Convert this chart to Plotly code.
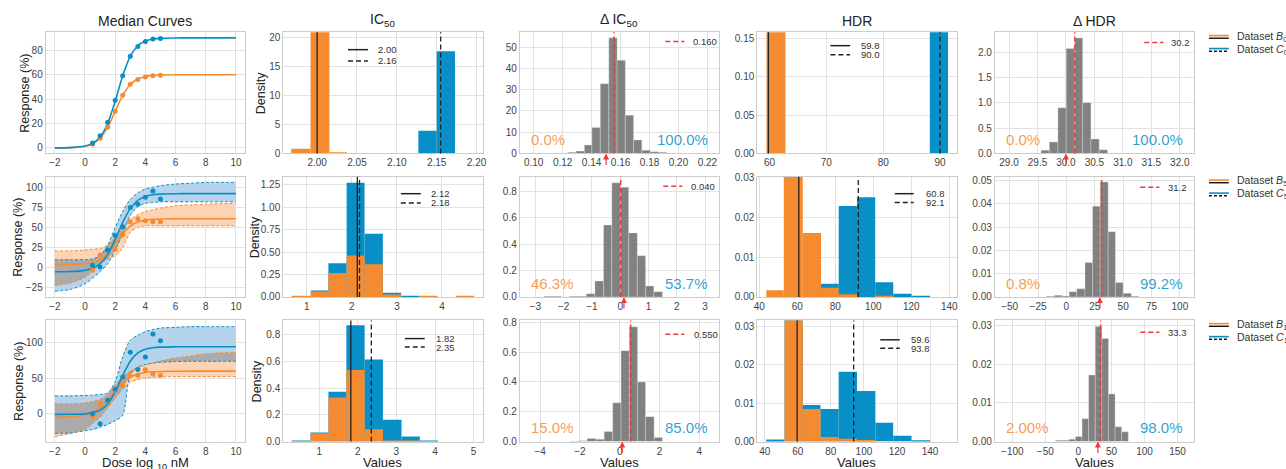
import numpy as np
import plotly.graph_objects as go

W, H = 1286, 469
ORANGE = "#f58b31"
BLUE = "#088fc7"
RED = "#ec3a3a"
TXT = "#333333"
FONT = "Liberation Sans, Arial, sans-serif"

# ---------------- data: median curves ----------------
curve_x = [-2, -1, 0, 0.5, 1, 1.5, 2, 2.5, 3, 3.5, 4, 4.5, 5, 6, 7, 8, 10]
dose_x = [0.5, 1.0, 1.5, 2.0, 2.5, 3.0, 3.5, 4.0, 4.5, 5.0]

med_b0 = [0.03, 0.21, 1.4, 3.4, 7.9, 16.8, 29.9, 43.0, 51.9, 56.4, 58.4, 59.3, 59.6, 59.8, 59.8, 59.8, 59.8]
med_c0 = [0.03, 0.22, 1.5, 3.7, 8.9, 20.0, 38.2, 59.0, 74.8, 83.5, 87.4, 89.0, 89.6, 89.9, 90.0, 90.0, 90.0]
pts_b0 = [3, 8, 17, 30, 43, 52, 56, 58, 59, 59.5]
pts_c0 = [4, 10, 21, 39, 59, 75, 83, 87, 89, 89.5]

med_b5 = [4.0, 4.15, 5.0, 6.5, 10.0, 17.4, 29.2, 42.2, 51.8, 56.9, 59.2, 60.2, 60.6, 60.8, 60.8, 60.8, 60.8]
med_c5 = [-4.95, -4.7, -3.2, -0.65, 5.0, 16.4, 35.0, 56.3, 73.5, 83.6, 88.4, 90.6, 91.5, 92.0, 92.1, 92.1, 92.1]
up_b5 = [21, 21, 22, 23, 24, 28, 38, 50, 60, 66, 70, 72, 74, 77, 78, 79, 80]
lo_b5 = [-22, -19, -12, -4, 5, 11, 15, 25, 44, 50, 52, 52, 52, 52, 52, 52, 52]
up_c5 = [10, 10, 10, 11, 15, 28, 50, 70, 85, 93, 98, 100, 102, 104, 105, 106, 106]
lo_c5 = [-29, -27, -20, -13, -5, 5, 22, 42, 65, 76, 80, 81, 82, 82, 82, 82, 82]
pts_b5 = [-3, 16, 22, 23, 41, 57, 61, 58.5, 57, 57]
pts_c5 = [3, 1, 22, 40, 51, 75, 79, 87.5, 95.5, 85.5]

med_b10 = [-4.9, -4.3, -1.7, 2.0, 8.7, 19.2, 31.9, 43.4, 51.1, 55.5, 57.7, 58.7, 59.2, 59.5, 59.6, 59.6, 59.6]
med_c10 = [-1.0, -0.9, -0.2, 1.3, 5.0, 13.7, 30.5, 53.5, 73.5, 85.2, 90.4, 92.5, 93.3, 93.7, 93.8, 93.8, 93.8]
up_b10 = [14, 14, 15, 17, 20, 27, 40, 52, 60, 64, 68, 71, 74, 78, 81, 84, 86]
lo_b10 = [-32, -28, -22, -14, -5, 8, 22, 35, 44, 48, 50, 51, 51.5, 52, 52, 52, 52]
up_c10 = [25, 25, 25.5, 26, 27, 29, 45, 80, 103, 110, 115, 118, 120, 121, 122, 122, 122]
lo_c10 = [-27.5, -27, -24, -22, -19, -15, -10, -2, 55, 65, 69, 71, 72, 73, 73.4, 73.4, 73.4]
pts_b10 = [-4, 14, 18, 33, 39, 53, 54, 61.5, 55.5, 53.7]
pts_c10 = [0, -14, 19, 34.4, 51.4, 86.2, 62, 79.4, 111.5, 102.3]

# ---------------- data: IC50 histograms ----------------
ic50_b0_edges = [1.9675, 1.9917, 2.0154, 2.0375]
ic50_b0_h = [0.8, 41.4, 0.2]
ic50_c0_edges = [2.127, 2.150, 2.173]
ic50_c0_h = [3.9, 17.6]

ic50_5_edges = [0.661, 1.088, 1.479, 1.884, 2.282, 2.688, 3.093, 3.498, 3.903, 4.309, 4.714]
ic50_b5_h = [0.007, 0.062, 0.266, 0.463, 0.364, 0.029, 0, 0.007, 0, 0.007]
ic50_c5_h = [0, 0.073, 0.375, 1.272, 0.703, 0.047, 0.007, 0, 0, 0]

ic50_10_edges = [0.286, 0.776, 1.241, 1.705, 2.178, 2.652, 3.133, 3.606, 4.08]
ic50_b10_h = [0, 0.062, 0.329, 0.535, 0.092, 0.007, 0.007, 0]
ic50_c10_h = [0.007, 0.067, 0.372, 0.869, 0.614, 0.163, 0.037, 0.007]

ic50_med_b = [2.00, 2.12, 1.82]
ic50_med_c = [2.155, 2.17, 2.35]
ic50_lab_b = ["2.00", "2.12", "1.82"]
ic50_lab_c = ["2.16", "2.18", "2.35"]

# ---------------- data: delta IC50 ----------------
dic0_edges = [0.1235, 0.1293, 0.135, 0.1402, 0.146, 0.1519, 0.1576, 0.1633, 0.169, 0.1747, 0.1805, 0.1862, 0.1919]
dic0_h = [0.5, 1.1, 4.0, 12.2, 32.8, 54.3, 43.8, 18.0, 6.3, 1.5, 0.8, 0.5]
dic5_edges = [-2.684, -2.386, -2.088, -1.79, -1.49, -1.2, -0.895, -0.59, -0.298, 0.006, 0.298, 0.602, 0.895, 1.187, 1.491]
dic5_h = [0.006, 0.006, 0, 0.006, 0.006, 0.025, 0.121, 0.545, 0.864, 0.83, 0.485, 0.312, 0.084, 0.04]
dic10_edges = [-2.5, -2.083, -1.633, -1.2, -0.783, -0.35, 0.067, 0.483, 0.9, 1.3, 1.733, 2.15]
dic10_h = [0.003, 0.005, 0.02, 0.015, 0.067, 0.26, 0.61, 0.77, 0.4, 0.167, 0.027]
dic_med = [0.1555, 0.017, 0.55]
dic_lab = ["0.160", "0.040", "0.550"]
dic_true = [0.15, 0.13, 0.13]
dic_pct_b = ["0.0%", "46.3%", "15.0%"]
dic_pct_c = ["100.0%", "53.7%", "85.0%"]

# ---------------- data: HDR histograms ----------------
hdr_b0_edges = [59.48, 62.8]
hdr_b0_h = [0.3]
hdr_c0_edges = [88.2, 91.4]
hdr_c0_h = [0.31]
hdr_5_edges = [43.7, 52.9, 62.9, 72.5, 81.8, 91.4, 101.0, 110.5, 120.1, 129.9]
hdr_b5_h = [0.0017, 0.041, 0.0161, 0.0023, 0.0007, 0, 0.0003, 0, 0]
hdr_c5_h = [0, 0, 0, 0.0033, 0.0229, 0.0251, 0.0037, 0.0008, 0.0002]
hdr_10_edges = [40.9, 52.0, 63.0, 73.7, 84.7, 95.8, 106.9, 117.7, 128.8, 140.0]
hdr_b10_h = [0, 0.0325, 0.0085, 0.0012, 0.0007, 0.0004, 0, 0, 0]
hdr_c10_h = [0.0005, 0.0327, 0.0095, 0.0085, 0.0182, 0.0132, 0.0049, 0.0015, 0.0003]
hdr_med_b = [59.8, 60.8, 59.6]
hdr_med_c = [90.0, 92.1, 93.8]
hdr_lab_b = ["59.8", "60.8", "59.6"]
hdr_lab_c = ["90.0", "92.1", "93.8"]

# ---------------- data: delta HDR ----------------
dhdr0_edges = [29.424, 29.563, 29.708, 29.859, 30.004, 30.155, 30.294, 30.439, 30.584, 30.730]
dhdr0_h = [0.01, 0.065, 0.227, 0.903, 2.078, 2.29, 1.006, 0.286, 0.071]
dhdr5_edges = [-17.7, -10.7, -3.7, 2.4, 9.1, 16.4, 23.1, 29.8, 36.8, 43.2, 49.9, 57.2, 63.9]
dhdr5_h = [0.0003, 0.0007, 0.0004, 0.0023, 0.0035, 0.0148, 0.039, 0.0494, 0.028, 0.0062, 0.0016, 0.0003]
dhdr10_edges = [-34.5, -24.5, -14.5, -4.5, 5.5, 15.5, 25.5, 35.5, 45.5, 55.5, 65.5, 75.5]
dhdr10_h = [0.0003, 0.0003, 0.0006, 0.0013, 0.0059, 0.0172, 0.0297, 0.0266, 0.0123, 0.0038, 0.0025]
dhdr_med = [30.155, 31.0, 33.5]
dhdr_lab = ["30.2", "31.2", "33.3"]
dhdr_true = [30.0, 29.5, 29.5]
dhdr_pct_b = ["0.0%", "0.8%", "2.00%"]
dhdr_pct_c = ["100.0%", "99.2%", "98.0%"]

legend_sub = ["0", "5", "10"]
col_titles = ["Median Curves", "IC<sub>50</sub>", "Δ IC<sub>50</sub>", "HDR", "Δ HDR"]

# ---------------- axis setup ----------------
ranges_x = [
    [[-2.6, 10.6], [1.9575, 2.2075], [0.0904, 0.228], [57.85, 92.9], [28.75, 32.25]],
    [[-2.6, 10.6], [0.477, 4.9], [-3.55, 3.49], [38.95, 143.8], [-63.1, 112.5]],
    [[-2.6, 10.6], [0.07, 5.23], [-5.03, 5.0], [35.5, 156], [-126.5, 175]],
]
ranges_y = [
    [[-4.5, 94.5], [0, 20.85], [0, 56.9], [0, 0.1577], [0, 2.40]],
    [[-36.3, 112.9], [0, 1.337], [0, 0.909], [0, 0.0302], [0, 0.0516]],
    [[-39, 130.7], [0, 0.906], [0, 0.813], [0, 0.0316], [0, 0.0313]],
]
ticks_x = [
    [list(range(-2, 11, 2)), [2.0, 2.05, 2.1, 2.15, 2.2], [0.10, 0.12, 0.14, 0.16, 0.18, 0.20, 0.22], [60, 70, 80, 90], [29.0, 29.5, 30.0, 30.5, 31.0, 31.5, 32.0]],
    [list(range(-2, 11, 2)), [1, 2, 3, 4], [-3, -2, -1, 0, 1, 2, 3], [40, 60, 80, 100, 120, 140], [-50, -25, 0, 25, 50, 75, 100]],
    [list(range(-2, 11, 2)), [1, 2, 3, 4, 5], [-4, -2, 0, 2, 4], [40, 60, 80, 100, 120, 140], [-100, -50, 0, 50, 100, 150]],
]
fmt_x = [["d", ".2f", ".2f", "d", ".1f"], ["d", "d", "d", "d", "d"], ["d", "d", "d", "d", "d"]]
ticks_y = [
    [[0, 20, 40, 60, 80], [0, 5, 10, 15, 20], [0, 10, 20, 30, 40, 50], [0, 0.05, 0.10, 0.15], [0, 0.5, 1.0, 1.5, 2.0]],
    [[-25, 0, 25, 50, 75, 100], [0, 0.25, 0.5, 0.75, 1.0, 1.25], [0, 0.2, 0.4, 0.6, 0.8], [0, 0.01, 0.02, 0.03], [0, 0.01, 0.02, 0.03, 0.04, 0.05]],
    [[0, 50, 100], [0, 0.2, 0.4, 0.6, 0.8], [0, 0.2, 0.4, 0.6, 0.8], [0, 0.01, 0.02, 0.03], [0, 0.01, 0.02, 0.03]],
]
fmt_y = [["d", "d", "d", ".2f", ".1f"], ["d", ".2f", ".1f", ".2f", ".2f"], ["d", ".1f", ".1f", ".2f", ".2f"]]

col_left = [42, 281, 519, 758, 997]
col_w = 200.5
row_top = [28, 176, 323]
row_bot = [152, 299, 447]
resp_lab_x = [21, 14, 15]
dens_lab_x = [258, 252, 255]


def pid(r, c):
    return r * 5 + c + 1


def xr(n):
    return "x" if n == 1 else f"x{n}"


def yr(n):
    return "y" if n == 1 else f"y{n}"


fig = go.Figure()
layout = {}
for r in range(3):
    for c in range(5):
        n = pid(r, c)
        common = dict(showgrid=True, gridcolor="#e2e2e2", gridwidth=1, showline=True, mirror=True,
                      linecolor="#cccccc", linewidth=1, zeroline=False, ticks="",
                      tickfont=dict(size=10, color="#444", family=FONT), fixedrange=True)
        layout["xaxis" if n == 1 else f"xaxis{n}"] = dict(
            domain=[col_left[c] / W, (col_left[c] + col_w) / W], anchor=yr(n),
            range=ranges_x[r][c], tickvals=ticks_x[r][c], tickformat=fmt_x[r][c], **common)
        layout["yaxis" if n == 1 else f"yaxis{n}"] = dict(
            domain=[1 - row_bot[r] / H, 1 - row_top[r] / H], anchor=xr(n),
            range=ranges_y[r][c], tickvals=ticks_y[r][c], tickformat=fmt_y[r][c], **common)

shapes = []
annotations = []


def line_trace(n, x, y, color, width=1.5, dash=None, fill=None, fillcolor=None, mode="lines"):
    fig.add_trace(go.Scatter(x=x, y=y, mode=mode, line=dict(color=color, width=width, dash=dash, shape="spline", smoothing=0.8),
                             fill=fill, fillcolor=fillcolor, xaxis=xr(n), yaxis=yr(n), showlegend=False, hoverinfo="skip"))


def add_hist(n, edges, heights, color, line_color=None):
    e = np.asarray(edges, dtype=float)
    fig.add_trace(go.Bar(x=e[:-1], y=heights, width=np.diff(e), offset=0,
                         marker=dict(color=color, line=dict(color=line_color or color, width=0.6 if line_color else 0)),
                         xaxis=xr(n), yaxis=yr(n), showlegend=False, hoverinfo="skip"))


def vline(n, x, color, dash=None, width=1.3):
    shapes.append(dict(type="line", xref=xr(n), yref=f"{yr(n)} domain", x0=x, x1=x, y0=0, y1=1,
                       line=dict(color=color, width=width, dash=dash)))


def dom_line(n, x0, x1, y, color, dash=None, width=1.5):
    shapes.append(dict(type="line", xref=f"{xr(n)} domain", yref=f"{yr(n)} domain", x0=x0, x1=x1, y0=y, y1=y,
                       line=dict(color=color, width=width, dash=dash)))


def dom_text(n, x, y, text, size=9.5, color=TXT, xanchor="left", yanchor="middle"):
    annotations.append(dict(xref=f"{xr(n)} domain", yref=f"{yr(n)} domain", x=x, y=y, text=text, showarrow=False,
                            xanchor=xanchor, yanchor=yanchor, borderpad=0,
                            font=dict(size=size, color=color, family=FONT)))


DASH = "5px,3px"

# ---------------- column 1: median curves ----------------
curve_rows = [
    (med_b0, med_c0, None, None, None, None, pts_b0, pts_c0),
    (med_b5, med_c5, up_b5, lo_b5, up_c5, lo_c5, pts_b5, pts_c5),
    (med_b10, med_c10, up_b10, lo_b10, up_c10, lo_c10, pts_b10, pts_c10),
]
for r, (mb, mc, ub, lb, uc, lc, pb, pc) in enumerate(curve_rows):
    n = pid(r, 0)
    if ub is not None:
        line_trace(n, curve_x, lc, "rgba(0,0,0,0)", width=0)
        line_trace(n, curve_x, uc, "rgba(0,0,0,0)", width=0, fill="tonexty", fillcolor="#b5d3ea")
        line_trace(n, curve_x, lb, "rgba(0,0,0,0)", width=0)
        line_trace(n, curve_x, ub, "rgba(0,0,0,0)", width=0, fill="tonexty", fillcolor="#fcd4b4")
        ov_lo = np.maximum(lb, lc)
        ov_hi = np.maximum(ov_lo, np.minimum(ub, uc))
        line_trace(n, curve_x, ov_lo, "rgba(0,0,0,0)", width=0)
        line_trace(n, curve_x, ov_hi, "rgba(0,0,0,0)", width=0, fill="tonexty", fillcolor="#ababab")
        for arr in (uc, lc):
            line_trace(n, curve_x, arr, BLUE, width=1, dash="3px,2px")
        for arr in (ub, lb):
            line_trace(n, curve_x, arr, ORANGE, width=1, dash="3px,2px")
    line_trace(n, curve_x, mb, ORANGE, width=1.6)
    line_trace(n, curve_x, mc, BLUE, width=1.6)
    fig.add_trace(go.Scatter(x=dose_x, y=pb, mode="markers", marker=dict(color=ORANGE, size=5),
                             xaxis=xr(n), yaxis=yr(n), showlegend=False, hoverinfo="skip"))
    fig.add_trace(go.Scatter(x=dose_x, y=pc, mode="markers", marker=dict(color=BLUE, size=5),
                             xaxis=xr(n), yaxis=yr(n), showlegend=False, hoverinfo="skip"))

# ---------------- column 2: IC50 ----------------
ic50_rows = [
    (ic50_b0_edges, ic50_b0_h, ic50_c0_edges, ic50_c0_h),
    (ic50_5_edges, ic50_b5_h, ic50_5_edges, ic50_c5_h),
    (ic50_10_edges, ic50_b10_h, ic50_10_edges, ic50_c10_h),
]
ic50_leg = [(0.325, 0.425, 0.47, 0.857, 0.764), (0.59, 0.69, 0.735, 0.86, 0.783), (0.61, 0.71, 0.76, 0.85, 0.78)]
for r, (eb, hb, ec, hc) in enumerate(ic50_rows):
    n = pid(r, 1)
    add_hist(n, ec, hc, BLUE)
    add_hist(n, eb, hb, ORANGE)
    vline(n, ic50_med_b[r], "#222222")
    vline(n, ic50_med_c[r], "#222222", dash=DASH)
    x0, x1, xt, y1, y2 = ic50_leg[r]
    dom_line(n, x0, x1, y1, "#222222")
    dom_line(n, x0, x1, y2, "#222222", dash=DASH)
    dom_text(n, xt, y1, ic50_lab_b[r])
    dom_text(n, xt, y2, ic50_lab_c[r])

# ---------------- column 3: delta IC50 ----------------
dic_rows = [(dic0_edges, dic0_h), (dic5_edges, dic5_h), (dic10_edges, dic10_h)]
dic_leg = [(0.73, 0.826, 0.862, 0.925), (0.72, 0.816, 0.852, 0.921), (0.73, 0.826, 0.868, 0.885)]
for r, (e, h) in enumerate(dic_rows):
    n = pid(r, 2)
    add_hist(n, e, h, "rgba(118,118,118,0.92)", line_color="rgba(230,230,230,0.6)")
    vline(n, dic_med[r], RED, dash=DASH, width=1.5)
    x0, x1, xt, y1 = dic_leg[r]
    dom_line(n, x0, x1, y1, RED, dash=DASH)
    dom_text(n, xt, y1, dic_lab[r])
    dom_text(n, 0.05, 0.035, dic_pct_b[r], size=15, color="rgba(245,139,49,0.85)", yanchor="bottom")
    dom_text(n, 0.95, 0.035, dic_pct_c[r], size=15, color="rgba(8,143,199,0.85)", xanchor="right", yanchor="bottom")
    annotations.append(dict(xref=xr(n), yref=yr(n), x=dic_true[r], y=0, ax=0, ay=13, text="", showarrow=True,
                            arrowhead=2, arrowsize=1, arrowwidth=1.2, arrowcolor=RED))

# ---------------- column 4: HDR ----------------
hdr_rows = [
    (hdr_b0_edges, hdr_b0_h, hdr_c0_edges, hdr_c0_h),
    (hdr_5_edges, hdr_b5_h, hdr_5_edges, hdr_c5_h),
    (hdr_10_edges, hdr_b10_h, hdr_10_edges, hdr_c10_h),
]
hdr_leg = [(0.367, 0.466, 0.516, 0.89, 0.815), (0.69, 0.785, 0.84, 0.86, 0.786), (0.617, 0.715, 0.765, 0.84, 0.77)]
for r, (eb, hb, ec, hc) in enumerate(hdr_rows):
    n = pid(r, 3)
    add_hist(n, ec, hc, BLUE)
    add_hist(n, eb, hb, ORANGE)
    vline(n, hdr_med_b[r], "#222222")
    vline(n, hdr_med_c[r], "#222222", dash=DASH)
    x0, x1, xt, y1, y2 = hdr_leg[r]
    dom_line(n, x0, x1, y1, "#222222")
    dom_line(n, x0, x1, y2, "#222222", dash=DASH)
    dom_text(n, xt, y1, hdr_lab_b[r])
    dom_text(n, xt, y2, hdr_lab_c[r])

# ---------------- column 5: delta HDR ----------------
dhdr_rows = [(dhdr0_edges, dhdr0_h), (dhdr5_edges, dhdr5_h), (dhdr10_edges, dhdr10_h)]
dhdr_leg = [(0.75, 0.846, 0.88, 0.917), (0.73, 0.826, 0.864, 0.913), (0.73, 0.826, 0.864, 0.903)]
for r, (e, h) in enumerate(dhdr_rows):
    n = pid(r, 4)
    add_hist(n, e, h, "rgba(118,118,118,0.92)", line_color="rgba(230,230,230,0.6)")
    vline(n, dhdr_med[r], RED, dash=DASH, width=1.5)
    x0, x1, xt, y1 = dhdr_leg[r]
    dom_line(n, x0, x1, y1, RED, dash=DASH)
    dom_text(n, xt, y1, dhdr_lab[r])
    dom_text(n, 0.05, 0.035, dhdr_pct_b[r], size=15, color="rgba(245,139,49,0.85)", yanchor="bottom")
    dom_text(n, 0.95, 0.035, dhdr_pct_c[r], size=15, color="rgba(8,143,199,0.85)", xanchor="right", yanchor="bottom")
    annotations.append(dict(xref=xr(n), yref=yr(n), x=dhdr_true[r], y=0, ax=0, ay=13, text="", showarrow=True,
                            arrowhead=2, arrowsize=1, arrowwidth=1.2, arrowcolor=RED))

# ---------------- titles & axis labels ----------------
for c in range(5):
    annotations.append(dict(xref="paper", yref="paper", x=(col_left[c] + col_w / 2) / W, y=1 - 27 / H,
                            text=col_titles[c], showarrow=False, xanchor="center", yanchor="bottom",
                            font=dict(size=14, color="#222", family=FONT)))
for r in range(3):
    yc = 1 - (row_top[r] + row_bot[r]) / 2 / H
    annotations.append(dict(xref="paper", yref="paper", x=resp_lab_x[r] / W, y=yc, text="Response (%)", textangle=-90,
                            showarrow=False, xanchor="center", yanchor="middle",
                            font=dict(size=12.5, color="#222", family=FONT)))
    annotations.append(dict(xref="paper", yref="paper", x=dens_lab_x[r] / W, y=yc, text="Density", textangle=-90,
                            showarrow=False, xanchor="center", yanchor="middle",
                            font=dict(size=12.5, color="#222", family=FONT)))
annotations.append(dict(xref="paper", yref="paper", x=(col_left[0] + col_w / 2) / W, y=1 - 459 / H,
                        text="Dose log <sub>10</sub> nM", showarrow=False, xanchor="center", yanchor="top",
                        font=dict(size=13, color="#222", family=FONT)))
for c in range(1, 5):
    annotations.append(dict(xref="paper", yref="paper", x=(col_left[c] + col_w / 2) / W, y=1 - 459 / H,
                            text="Values", showarrow=False, xanchor="center", yanchor="top",
                            font=dict(size=13, color="#222", family=FONT)))

# ---------------- right-hand legends ----------------
for r in range(3):
    yb = row_top[r] + 4.7
    yc = yb + 13.3
    for (ytop, top_color) in ((yb - 1.4, ORANGE), (yc - 1.4, BLUE)):
        shapes.append(dict(type="line", xref="paper", yref="paper", x0=1212.5 / W, x1=1232.5 / W,
                           y0=1 - ytop / H, y1=1 - ytop / H, line=dict(color=top_color, width=1.6)))
    shapes.append(dict(type="line", xref="paper", yref="paper", x0=1212.5 / W, x1=1232.5 / W,
                       y0=1 - (yb + 1.3) / H, y1=1 - (yb + 1.3) / H, line=dict(color="#111", width=1.4)))
    shapes.append(dict(type="line", xref="paper", yref="paper", x0=1212.5 / W, x1=1232.5 / W,
                       y0=1 - (yc + 1.3) / H, y1=1 - (yc + 1.3) / H, line=dict(color="#111", width=1.4, dash="3px,2px")))
    for yy, letter in ((yb, "B"), (yc, "C")):
        annotations.append(dict(xref="paper", yref="paper", x=1239 / W, y=1 - yy / H,
                                text=f"Dataset <i>{letter}</i><sub>{legend_sub[r]}</sub>", showarrow=False,
                                xanchor="left", yanchor="middle", font=dict(size=10.5, color=TXT, family=FONT)))

fig.update_layout(width=W, height=H, margin=dict(l=0, r=0, t=0, b=0), paper_bgcolor="white",
                  plot_bgcolor="white", barmode="overlay", showlegend=False,
                  shapes=shapes, annotations=annotations, font=dict(family=FONT), **layout)
fig.write_html("out.html", config={"displayModeBar": False},
               post_script="document.body.style.margin='0';document.body.style.overflow='hidden';")
